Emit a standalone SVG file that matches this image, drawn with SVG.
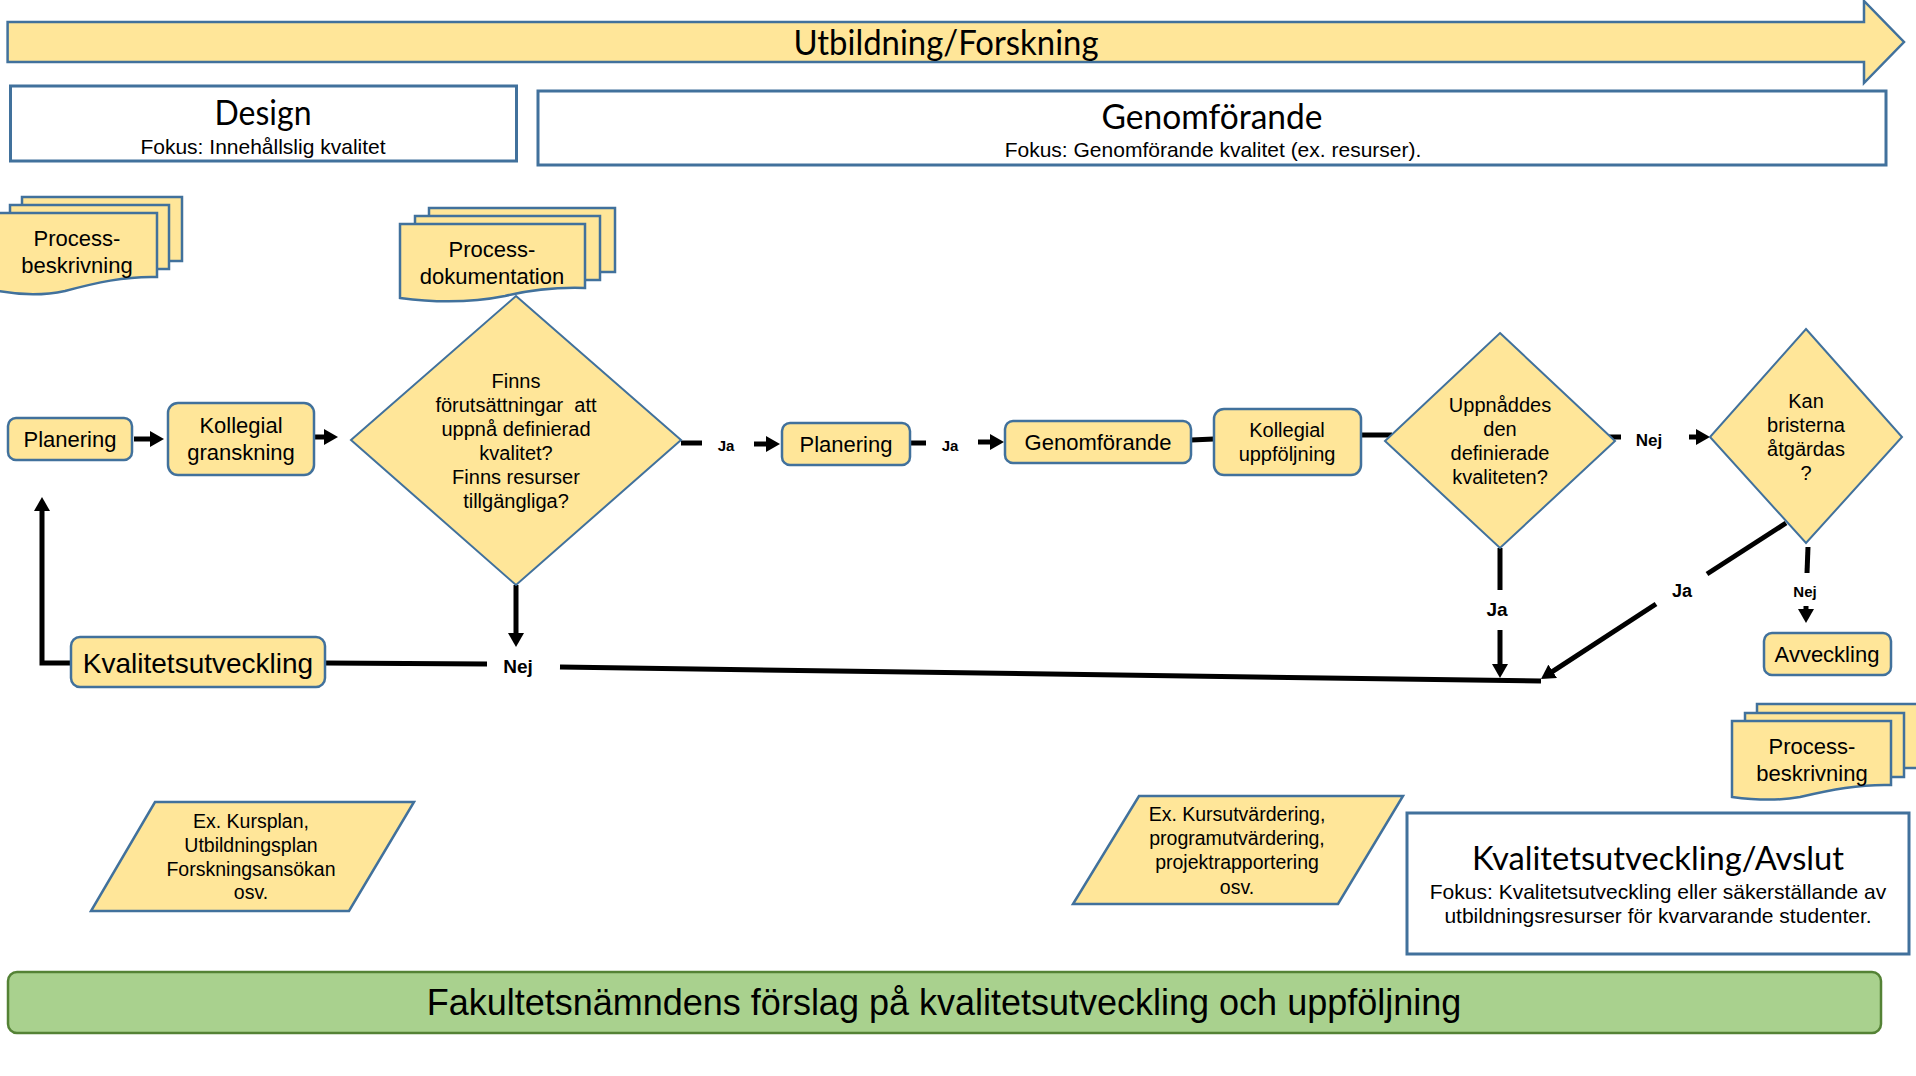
<svg xmlns="http://www.w3.org/2000/svg" width="1916" height="1076" viewBox="0 0 1916 1076">
<defs>
<style>
.y{fill:#FFE699;stroke:#41719C;stroke-width:2.5}
.d{fill:#FFE699;stroke:#41719C;stroke-width:2}
.f{fill:#FFFFFF;stroke:#41719C;stroke-width:3}
.c{fill:none;stroke:#000;stroke-width:5}
.t{font-family:"Liberation Sans",Arial,sans-serif;fill:#000;text-anchor:middle}
.h{font-family:Lato,"Open Sans",sans-serif;fill:#000;text-anchor:middle}
.b{font-family:"Liberation Sans",Arial,sans-serif;font-weight:bold;fill:#000;text-anchor:middle}
</style>
<marker id="ah" viewBox="0 0 14 16" markerWidth="14" markerHeight="16" refX="6" refY="8" orient="auto" markerUnits="userSpaceOnUse">
<path d="M0,0 L14,8 L0,16 Z" fill="#000"/>
</marker>
</defs>
<rect width="1916" height="1076" fill="#FFFFFF"/>

<g id="connectors">
<line class="c" x1="134" y1="439" x2="156" y2="439" marker-end="url(#ah)"/>
<line class="c" x1="315" y1="437" x2="330" y2="437" marker-end="url(#ah)"/>
<line class="c" x1="681" y1="443" x2="702" y2="443"/>
<line class="c" x1="754" y1="444" x2="772" y2="444" marker-end="url(#ah)"/>
<line class="c" x1="910" y1="443" x2="926" y2="443"/>
<line class="c" x1="978" y1="442" x2="996" y2="442" marker-end="url(#ah)"/>
<line class="c" x1="1191" y1="440" x2="1214" y2="439"/>
<line class="c" x1="1361" y1="435" x2="1392" y2="435"/>
<line class="c" x1="1606" y1="437" x2="1621" y2="437"/>
<line class="c" x1="1689" y1="437" x2="1702" y2="437" marker-end="url(#ah)"/>
<line class="c" x1="1500" y1="548" x2="1500" y2="590"/>
<line class="c" x1="1500" y1="630" x2="1500" y2="670" marker-end="url(#ah)"/>
<line class="c" x1="1786" y1="523" x2="1707" y2="574"/>
<line class="c" x1="1656" y1="604" x2="1547.7" y2="674.6" marker-end="url(#ah)"/>
<line class="c" x1="1808" y1="547" x2="1807" y2="573"/>
<line class="c" x1="1806" y1="606" x2="1806" y2="615" marker-end="url(#ah)"/>
<line class="c" x1="325" y1="663" x2="487" y2="664"/>
<line class="c" x1="560" y1="667" x2="1541" y2="681"/>
<polyline class="c" points="71,663 42,663 42,505" marker-end="url(#ah)"/>
<line class="c" x1="516" y1="585" x2="516" y2="639" marker-end="url(#ah)"/>
<text class="b" x="726" y="451" font-size="15">Ja</text>
<text class="b" x="950" y="451" font-size="15">Ja</text>
<text class="b" x="1649" y="446" font-size="17">Nej</text>
<text class="b" x="1497" y="616" font-size="19">Ja</text>
<text class="b" x="1682" y="597" font-size="18">Ja</text>
<text class="b" x="1805" y="597" font-size="15">Nej</text>
<text class="b" x="518" y="673" font-size="19">Nej</text>
</g>

<g id="phase-arrow">
<path class="y" d="M7.6,22 H1864 V1 L1904,42 L1864,83 V62 H7.6 Z"/>
<text class="h" x="946" y="55" font-size="34" textLength="305" lengthAdjust="spacingAndGlyphs">Utbildning/Forskning</text>
</g>

<g id="design">
<rect class="f" x="10.5" y="86" width="506" height="75"/>
<text class="h" x="263" y="124.5" font-size="34" textLength="97" lengthAdjust="spacingAndGlyphs">Design</text>
<text class="t" x="263" y="154" font-size="21">Fokus: Innehållslig kvalitet</text>
</g>

<g id="genomforande-frame">
<rect class="f" x="538" y="91" width="1348" height="74"/>
<text class="h" x="1212" y="129" font-size="34" textLength="221" lengthAdjust="spacingAndGlyphs">Genomförande</text>
<text class="t" x="1213" y="157" font-size="21">Fokus: Genomförande kvalitet (ex. resurser).</text>
</g>

<g id="processbeskrivning-1">
<rect class="y" x="22" y="197" width="160" height="64"/>
<rect class="y" x="10" y="205" width="159" height="64"/>
<path class="y" d="M-2,213 H157 V277 C125,276 95,283 65,291 C42,296 20,295 -2,291 Z"/>
<text class="t" x="77" y="246" font-size="22">Process-</text>
<text class="t" x="77" y="273" font-size="22">beskrivning</text>
</g>

<g id="processdokumentation">
<rect class="y" x="429" y="208" width="186" height="64"/>
<rect class="y" x="415" y="216" width="185" height="64"/>
<path class="y" d="M400,224 H585 V288 C555,287 530,290 505,296 C470,303 430,302 400,298 Z"/>
<text class="t" x="492" y="257" font-size="22">Process-</text>
<text class="t" x="492" y="284" font-size="22">dokumentation</text>
</g>

<g id="planering-1">
<rect class="y" x="8" y="418" width="124" height="42" rx="8"/>
<text class="t" x="70" y="447" font-size="22">Planering</text>
</g>

<g id="kollegial-granskning">
<rect class="y" x="168" y="403" width="146" height="72" rx="10"/>
<text class="t" x="241" y="433" font-size="22">Kollegial</text>
<text class="t" x="241" y="460" font-size="22">granskning</text>
</g>

<g id="beslut-1">
<polygon class="d" points="516,296 681,440 516,585 351,440"/>
<text class="t" x="516" y="388" font-size="20">Finns</text>
<text class="t" x="516" y="412" font-size="20">förutsättningar&#160; att</text>
<text class="t" x="516" y="436" font-size="20">uppnå definierad</text>
<text class="t" x="516" y="460" font-size="20">kvalitet?</text>
<text class="t" x="516" y="484" font-size="20">Finns resurser</text>
<text class="t" x="516" y="508" font-size="20">tillgängliga?</text>
</g>

<g id="planering-2">
<rect class="y" x="782" y="423" width="128" height="42" rx="8"/>
<text class="t" x="846" y="452" font-size="22">Planering</text>
</g>

<g id="genomforande">
<rect class="y" x="1005" y="421" width="186" height="42" rx="8"/>
<text class="t" x="1098" y="450" font-size="22">Genomförande</text>
</g>

<g id="kollegial-uppfoljning">
<rect class="y" x="1214" y="409" width="147" height="66" rx="10"/>
<text class="t" x="1287" y="437" font-size="20">Kollegial</text>
<text class="t" x="1287" y="461" font-size="20">uppföljning</text>
</g>

<g id="beslut-2">
<polygon class="d" points="1500,333 1615,441 1500,548 1385,441"/>
<text class="t" x="1500" y="412" font-size="20">Uppnåddes</text>
<text class="t" x="1500" y="436" font-size="20">den</text>
<text class="t" x="1500" y="460" font-size="20">definierade</text>
<text class="t" x="1500" y="484" font-size="20">kvaliteten?</text>
</g>

<g id="beslut-3">
<polygon class="d" points="1806,329 1902,437 1806,543 1710,437"/>
<text class="t" x="1806" y="408" font-size="20">Kan</text>
<text class="t" x="1806" y="432" font-size="20">bristerna</text>
<text class="t" x="1806" y="456" font-size="20">åtgärdas</text>
<text class="t" x="1806" y="480" font-size="20">?</text>
</g>

<g id="avveckling">
<rect class="y" x="1764" y="633" width="127" height="42" rx="8"/>
<text class="t" x="1827" y="662" font-size="22">Avveckling</text>
</g>

<g id="processbeskrivning-2">
<rect class="y" x="1757" y="704" width="170" height="64"/>
<rect class="y" x="1745" y="713" width="159" height="64"/>
<path class="y" d="M1732,721 H1891 V785 C1860,784 1830,790 1800,797 C1778,801 1755,800 1732,797 Z"/>
<text class="t" x="1812" y="754" font-size="22">Process-</text>
<text class="t" x="1812" y="781" font-size="22">beskrivning</text>
</g>

<g id="kvalitetsutveckling">
<rect class="y" x="71" y="637" width="254" height="50" rx="9"/>
<text class="t" x="198" y="673" font-size="28">Kvalitetsutveckling</text>
</g>

<g id="exempel-design">
<polygon class="y" points="155,802 414,802 349,911 91,911"/>
<text class="t" x="251" y="828" font-size="19.5">Ex. Kursplan,</text>
<text class="t" x="251" y="852" font-size="19.5">Utbildningsplan</text>
<text class="t" x="251" y="876" font-size="19.5">Forskningsansökan</text>
<text class="t" x="251" y="899" font-size="19.5">osv.</text>
</g>

<g id="exempel-genomforande">
<polygon class="y" points="1139,796 1403,796 1338,904 1073,904"/>
<text class="t" x="1237" y="821" font-size="19.5">Ex. Kursutvärdering,</text>
<text class="t" x="1237" y="845" font-size="19.5">programutvärdering,</text>
<text class="t" x="1237" y="869" font-size="19.5">projektrapportering</text>
<text class="t" x="1237" y="894" font-size="19.5">osv.</text>
</g>

<g id="kvalitetsutveckling-avslut">
<rect class="f" x="1407" y="813" width="502" height="141"/>
<text class="h" x="1658" y="870" font-size="32" textLength="372" lengthAdjust="spacingAndGlyphs">Kvalitetsutveckling/Avslut</text>
<text class="t" x="1658" y="899" font-size="21">Fokus: Kvalitetsutveckling eller säkerställande av</text>
<text class="t" x="1658" y="923" font-size="21">utbildningsresurser för kvarvarande studenter.</text>
</g>

<g id="fakultetsnamnden">
<rect x="8" y="972" width="1873" height="61" rx="9" fill="#A9D18E" stroke="#548235" stroke-width="2.5"/>
<text class="t" x="944" y="1015" font-size="36">Fakultetsnämndens förslag på kvalitetsutveckling och uppföljning</text>
</g>
</svg>
